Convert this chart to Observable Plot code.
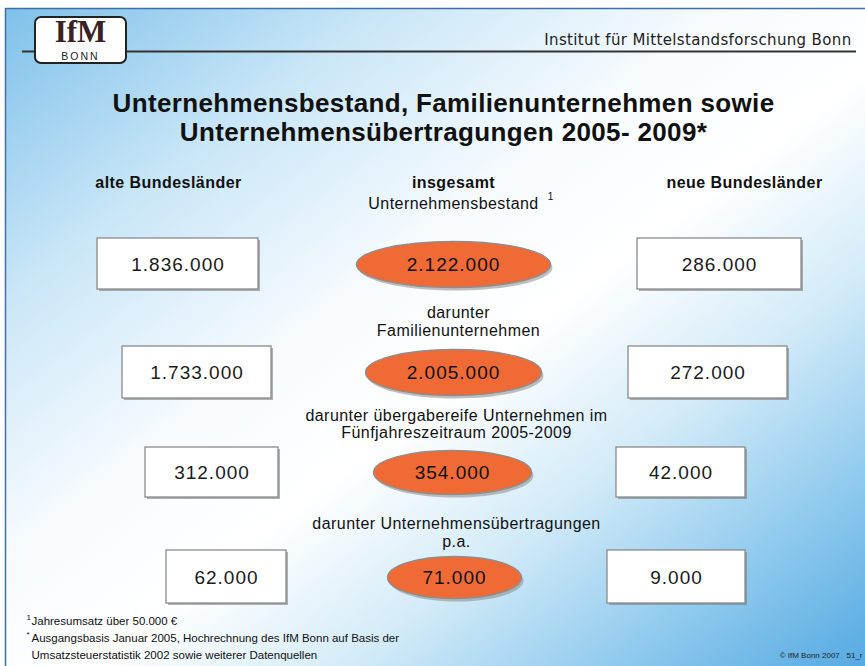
<!DOCTYPE html>
<html><head><meta charset="utf-8">
<script src="https://cdn.jsdelivr.net/npm/d3@7"></script>
<script src="https://cdn.jsdelivr.net/npm/@observablehq/plot@0.6"></script>
<style>
html,body{margin:0;padding:0;background:#fff;}
#chart{width:865px;height:666px;}
</style></head><body><div id="chart"></div>
<script>
// ---------- data ----------
const title = ["Unternehmensbestand, Familienunternehmen sowie", "Unternehmensübertragungen 2005- 2009*"];
const columnHeaders = ["alte Bundesländer", "insgesamt", "neue Bundesländer"];
const rowLabels = [
  ["Unternehmensbestand"],
  ["darunter", "Familienunternehmen"],
  ["darunter übergabereife Unternehmen im", "Fünfjahreszeitraum 2005-2009"],
  ["darunter Unternehmensübertragungen", "p.a."]
];
const alteBundeslaender = [1836000, 1733000, 312000, 62000];
const insgesamt = [2122000, 2005000, 354000, 71000];
const neueBundeslaender = [286000, 272000, 42000, 9000];
const footnoteMarks = ["1", "*", ""];
const footnotes = [
  "Jahresumsatz über 50.000 €",
  "Ausgangsbasis Januar 2005, Hochrechnung des IfM Bonn auf Basis der",
  "Umsatzsteuerstatistik 2002 sowie weiterer Datenquellen"
];
const institute = "Institut für Mittelstandsforschung Bonn";
const credit = "© IfM Bonn 2007   51_r";

// ---------- layout (slide pixels) ----------
const W = 865, H = 666;
const rowCenterY = [264, 372, 472, 577];
const boxTop = [238, 346, 447, 550];
const boxBottom = [289, 398, 497, 603];
const alteBoxX = [[97, 258], [122, 271], [145, 278], [166, 286]];
const neueBoxX = [[637, 801], [628, 787], [616, 745], [607, 745]];
const ellipseX = [453, 453, 452, 454];
const ellipseRx = [97, 88, 79, 67];
const ellipseRy = [23, 23, 22, 21];
const labelX = [453, 458, 456, 456];
const labelLineY = [[203], [312, 330], [415, 432], [523, 541]];
const headerX = [168, 453, 744];
const titleY = [103, 132];
const footnoteY = [621, 638, 655];

// ---------- helpers ----------
const fmt = d3.formatLocale({decimal: ",", thousands: ".", grouping: [3], currency: ["", " €"]}).format(",d");
const FONT = "Liberation Sans, Arial, sans-serif";

function ellipseSymbol(aspect) {
  const k = 0.5523;
  return {
    draw(ctx, size) {
      const rx = Math.sqrt(size / Math.PI), ry = rx * aspect;
      ctx.moveTo(rx, 0);
      ctx.bezierCurveTo(rx, k * ry, k * rx, ry, 0, ry);
      ctx.bezierCurveTo(-k * rx, ry, -rx, k * ry, -rx, 0);
      ctx.bezierCurveTo(-rx, -k * ry, -k * rx, -ry, 0, -ry);
      ctx.bezierCurveTo(k * rx, -ry, rx, -k * ry, rx, 0);
      ctx.closePath();
    }
  };
}

// tables built from the arrays
const rows = d3.range(insgesamt.length);
const boxes = rows.flatMap(i => [
  {x1: alteBoxX[i][0], x2: alteBoxX[i][1], y1: boxTop[i], y2: boxBottom[i], y: rowCenterY[i], value: alteBundeslaender[i]},
  {x1: neueBoxX[i][0], x2: neueBoxX[i][1], y1: boxTop[i], y2: boxBottom[i], y: rowCenterY[i], value: neueBundeslaender[i]}
]);
const labelLines = rows.flatMap(i => rowLabels[i].map((t, j) => ({text: t, x: labelX[i], y: labelLineY[i][j]})));
const headers = columnHeaders.map((t, i) => ({text: t, x: headerX[i], y: 182}));
const titles = title.map((t, i) => ({text: t, x: 443, y: titleY[i]}));
const notes = footnotes.map((t, i) => ({text: t, mark: footnoteMarks[i], y: footnoteY[i]}));

const bgDefs = () => {
  const defs = d3.create("svg:defs");
  const g = defs.append("linearGradient").attr("id", "slidebg")
    .attr("x1", 0).attr("y1", 0).attr("x2", 1).attr("y2", 1);
  [[0, "#7fc1ea"], [0.22, "#c9e6f7"], [0.42, "#f7fbfe"], [0.55, "#ffffff"],
   [0.7, "#d3ebf8"], [0.85, "#92cbee"], [1, "#55aae2"]]
    .forEach(([o, c]) => g.append("stop").attr("offset", o).attr("stop-color", c));
  return defs.node();
};

const ellipseMarks = rows.flatMap(i => [
  Plot.dot([i], {x: j => ellipseX[j], y: j => rowCenterY[j], r: ellipseRx[i],
    symbol: ellipseSymbol(ellipseRy[i] / ellipseRx[i]), fill: "#8a8a8a", fillOpacity: 0.55, stroke: "none", dx: 2, dy: 3}),
  Plot.dot([i], {x: j => ellipseX[j], y: j => rowCenterY[j], r: ellipseRx[i],
    symbol: ellipseSymbol(ellipseRy[i] / ellipseRx[i]), fill: "#ef6a35", stroke: "#8d8d8d", strokeWidth: 1.3})
]);

const chart = Plot.plot({
  width: W, height: H,
  margin: 0,
  x: {domain: [0, W], range: [0, W], axis: null},
  y: {domain: [0, H], range: [0, H], axis: null},
  style: {background: "transparent", overflow: "visible"},
  marks: [
    bgDefs,
    Plot.rect([{x1: 5, x2: W, y1: 8, y2: H}], {x1: "x1", x2: "x2", y1: "y1", y2: "y2", fill: "url(#slidebg)"}),
    Plot.ruleY([8], {x1: 5, x2: W, stroke: "#3f6fa6", strokeWidth: 1.5}),
    Plot.ruleX([5], {y1: 8, y2: H, stroke: "#3f6fa6", strokeWidth: 1.5}),
    // header rule + logo
    Plot.ruleY([51], {x1: 22, x2: 856, stroke: "#333", strokeWidth: 2}),
    Plot.rect([{x1: 35, x2: 126, y1: 17, y2: 63}], {x1: "x1", x2: "x2", y1: "y1", y2: "y2", rx: 6,
      fill: "white", stroke: "#222", strokeWidth: 2}),
    Plot.text(["IfM"], {x: 80, y: 32, fontFamily: "Liberation Serif, DejaVu Serif, serif", fontWeight: "bold",
      fontSize: 31, fill: "#3a2222"}),
    Plot.text(["BONN"], {x: 80, y: 56.5, fontFamily: FONT, fontSize: 10.5, fill: "#222"}),
    Plot.text([institute], {x: 851, y: 40, textAnchor: "end", fontFamily: "DejaVu Sans, sans-serif",
      fontSize: 15, fill: "#222"}),
    // title
    Plot.text(titles, {x: "x", y: "y", text: "text", fontFamily: FONT, fontWeight: "bold", fontSize: 26, fill: "#111"}),
    // column headers
    Plot.text(headers, {x: "x", y: "y", text: "text", fontFamily: FONT, fontWeight: "bold", fontSize: 16, fill: "#111"}),
    Plot.text(["1"], {x: 550, y: 196, fontFamily: FONT, fontSize: 10, fill: "#111"}),
    // row labels
    Plot.text(labelLines, {x: "x", y: "y", text: "text", fontFamily: FONT, fontSize: 16, fill: "#111"}),
    // box shadows and boxes
    Plot.rect(boxes, {x1: "x1", x2: "x2", y1: "y1", y2: "y2", fill: "#7d7d7d", fillOpacity: 0.6, dx: 2, dy: 2}),
    Plot.rect(boxes, {x1: "x1", x2: "x2", y1: "y1", y2: "y2", fill: "white", stroke: "#8a8a8a", strokeWidth: 1.3}),
    Plot.text(boxes, {x: d => (d.x1 + d.x2) / 2, y: "y", text: d => fmt(d.value), fontFamily: FONT, fontSize: 19, fill: "#1a1a1a"}),
    // ellipses
    ...ellipseMarks,
    Plot.text(rows, {x: i => ellipseX[i], y: i => rowCenterY[i], text: i => fmt(insgesamt[i]), fontFamily: FONT,
      fontSize: 19, fill: "#111"}),
    // footnotes
    Plot.text(notes, {x: 31, y: "y", text: "text", textAnchor: "start", fontFamily: FONT, fontSize: 11.5, fill: "#111"}),
    Plot.text(notes, {x: 26, y: d => d.y - 4, text: "mark", textAnchor: "start", fontFamily: FONT, fontSize: 8, fill: "#111"}),
    Plot.text([credit], {x: 862, y: 655, textAnchor: "end", fontFamily: FONT, fontSize: 8, fill: "#222"})
  ]
});

// letter spacing to mimic the slide's wide text rendering (style only)
const spacing = {"26": "0.35px", "16": "0.45px", "19": "1px", "15": "0.35px", "10.5": "2px"};
d3.select(chart).selectAll("g[aria-label=text]").each(function() {
  const fs = this.getAttribute("font-size");
  if (spacing[fs]) this.style.letterSpacing = spacing[fs];
});
document.getElementById("chart").appendChild(chart);
</script>
</body></html>
